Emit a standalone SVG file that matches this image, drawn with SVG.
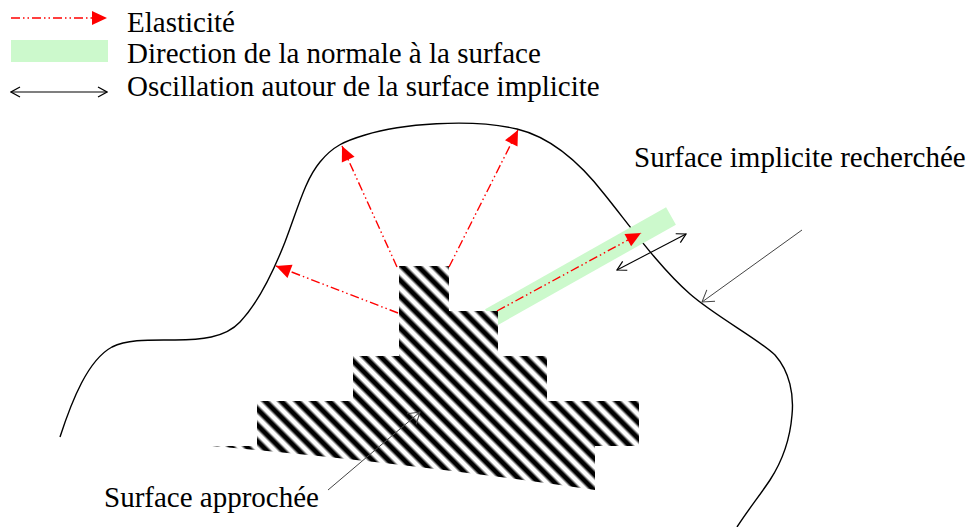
<svg xmlns="http://www.w3.org/2000/svg" width="972" height="527" viewBox="0 0 972 527">
  <style>
    text { font-family: "Liberation Serif", "Times New Roman", serif; font-size: 29px; fill: #000; }
    .elastic { fill: none; stroke: #ff0000; stroke-width: 1.4; stroke-dasharray: 9 3 1.5 3 1.5 3; }
    .osc { fill: none; stroke: #000; stroke-width: 1.1; }
    .ptr { fill: none; stroke: #444; stroke-width: 1; }
    .curve { fill: none; stroke: #000; stroke-width: 1.4; }
    .band { stroke: #ccf9cc; stroke-width: 20; fill: none; }
  </style>
  <defs>
    <marker id="redHead" viewBox="-16 -8 17 16" markerWidth="17" markerHeight="16" refX="0" refY="0" orient="auto" markerUnits="userSpaceOnUse">
      <path d="M-15,-7 L0,0 L-15,7 Z" fill="#ff0000"/>
    </marker>
    <marker id="openHead" viewBox="-12 -8 13 16" markerWidth="13" markerHeight="16" refX="0" refY="0" orient="auto-start-reverse" markerUnits="userSpaceOnUse">
      <path d="M-9,-5 L0,0 L-9,5" fill="none" stroke="#000" stroke-width="1.2"/>
    </marker>
    <marker id="ptrHead" viewBox="-13 -9 14 18" markerWidth="14" markerHeight="18" refX="0" refY="0" orient="auto" markerUnits="userSpaceOnUse">
      <path d="M-11,-7 L0,0 L-11,7" fill="none" stroke="#444" stroke-width="1"/>
    </marker>
    <linearGradient id="stripeGrad" x1="0" y1="0" x2="1" y2="0">
      <stop offset="0" stop-color="#fff"/>
      <stop offset="0.14" stop-color="#fff"/>
      <stop offset="0.36" stop-color="#000"/>
      <stop offset="0.64" stop-color="#000"/>
      <stop offset="0.86" stop-color="#fff"/>
      <stop offset="1" stop-color="#fff"/>
    </linearGradient>
    <pattern id="hatch" patternUnits="userSpaceOnUse" width="11.3" height="11.3" patternTransform="rotate(-45)">
      <rect x="0" y="0" width="11.3" height="11.3" fill="url(#stripeGrad)"/>
    </pattern>
  </defs>

  <g id="legend">
    <line class="elastic" x1="11" y1="18" x2="107" y2="18" marker-end="url(#redHead)"/>
    <rect x="11" y="40" width="97" height="22" fill="#ccf9cc"/>
    <line class="osc" x1="11" y1="92" x2="107" y2="92" marker-start="url(#openHead)" marker-end="url(#openHead)"/>
    <text x="127" y="32">Elasticité</text>
    <text x="127" y="63">Direction de la normale à la surface</text>
    <text x="127" y="96">Oscillation autour de la surface implicite</text>
  </g>

  <g id="implicit-surface">
    <path class="curve" d="M60,437 C72,400 88,360 112,347 C128,339 150,340 175,340 C200,340 225,338 240,322 C258,303 272,275 285,242 C298,208 305,180 320,162 C333,146 345,141 365,135 C400,124 470,118 517,129 C550,137 578,160 605,195 C630,226 660,268 690,294 C715,316 760,340 775,355 C790,372 794,395 792,415 C790,440 783,460 770,480 C760,495 748,510 737,527"/>
    <text x="634" y="167">Surface implicite recherchée</text>
  </g>

  <g id="normal-band">
    <line class="band" x1="490" y1="318" x2="671" y2="216"/>
  </g>

  <g id="approx-surface">
    <path d="M399,266 H449 V311 H498 V356 H547 V401 H639 V446 H595 V490 Q400,462 212,446 H257 V401 H353 V356 H399 Z" fill="url(#hatch)"/>
    <text x="104" y="507">Surface approchée</text>
  </g>

  <g id="connectors">
    <line class="elastic" x1="398" y1="313" x2="276" y2="266" marker-end="url(#redHead)"/>
    <line class="elastic" x1="397" y1="267" x2="342" y2="146" marker-end="url(#redHead)"/>
    <line class="elastic" x1="449" y1="267" x2="518" y2="130" marker-end="url(#redHead)"/>
    <line class="elastic" x1="497" y1="311" x2="641" y2="233" marker-end="url(#redHead)"/>
    <line class="osc" x1="617" y1="270" x2="686" y2="234" marker-start="url(#openHead)" marker-end="url(#openHead)"/>
    <line class="ptr" x1="802" y1="230" x2="702" y2="302" marker-end="url(#ptrHead)"/>
    <line class="ptr" x1="328" y1="490" x2="420" y2="412" marker-end="url(#ptrHead)"/>
  </g>
</svg>
